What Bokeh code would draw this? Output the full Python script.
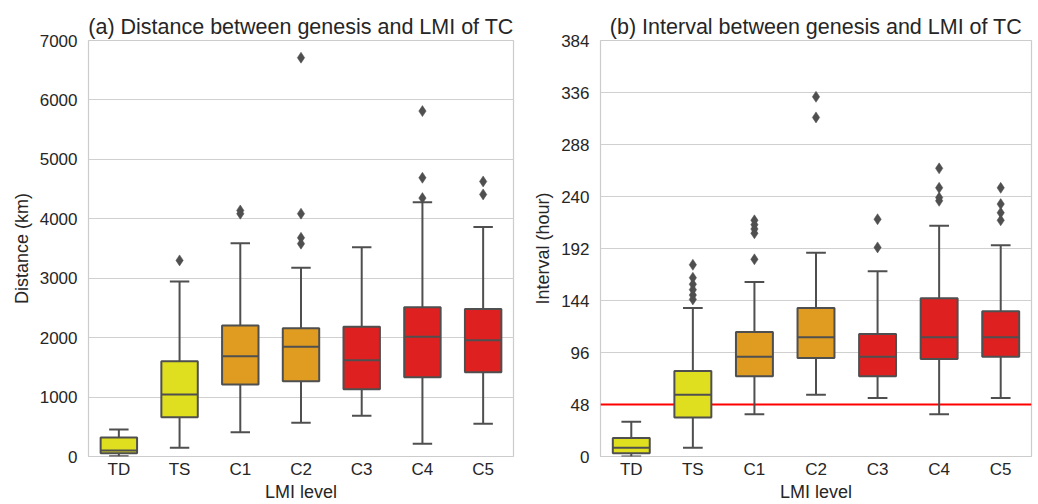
from bokeh.plotting import figure
from bokeh.layouts import row
from bokeh.models import ColumnDataSource, FactorRange, Range1d, FixedTicker, Span
from bokeh.transform import dodge
from bokeh.embed import file_html
from bokeh.resources import INLINE

# ---------------- data ----------------
levels = ["TD", "TS", "C1", "C2", "C3", "C4", "C5"]
box_colors = ["#dfdf20", "#dfdf20", "#df9c20", "#df9c20", "#df2020", "#df2020", "#df2020"]

# (a) distance between genesis and LMI (km)
dist_lo = [5, 146, 409, 567, 685, 213, 550]
dist_q1 = [55, 662, 1212, 1268, 1133, 1335, 1419]
dist_med = [100, 1043, 1688, 1846, 1621, 2014, 1958]
dist_q3 = [320, 1604, 2205, 2160, 2182, 2513, 2480]
dist_hi = [454, 2945, 3590, 3175, 3523, 4280, 3860]
dist_out = {
    "TS": [3300],
    "C1": [4140, 4085],
    "C2": [6710, 4085, 3680, 3580],
    "C4": [5812, 4690, 4348],
    "C5": [4628, 4410],
}

# (b) interval between genesis and LMI (hour)
int_lo = [0, 8, 39, 57, 54, 39, 54]
int_q1 = [3, 36, 74, 91, 74, 90, 92]
int_med = [8, 57, 92, 110, 92, 110, 110]
int_q3 = [17, 79, 115, 137, 113, 146, 134]
int_hi = [32, 137, 161, 188, 171, 213, 195]
int_out = {
    "TS": [177, 165, 159, 154, 149, 145],
    "C1": [218, 214, 210, 206, 182],
    "C2": [332, 313],
    "C3": [219, 193],
    "C4": [266, 248, 239, 236],
    "C5": [248, 233, 225, 218],
}
threshold_hour = [48]

dist_ticks = [0, 1000, 2000, 3000, 4000, 5000, 6000, 7000]
int_ticks = [0, 48, 96, 144, 192, 240, 288, 336, 384]

FONT = "Liberation Sans"
TXT = "#262626"
EDGE = "#4f4f4f"


def make_panel(title, ylabel, lo, q1, med, q3, hi, outl, ticks, width, left, threshold=None):
    p = figure(
        width=width, height=504, x_range=FactorRange(*levels),
        y_range=Range1d(ticks[0], ticks[-1]),
        output_backend="svg", toolbar_location=None, title=title,
        min_border_left=left, min_border_right=7, min_border_top=40, min_border_bottom=48,
        background_fill_color="white", border_fill_color="white",
    )
    p.outline_line_color = "#cccccc"
    p.outline_line_width = 1.2
    p.title.text_font = FONT
    p.title.text_font_size = "21.5px"
    p.title.text_font_style = "normal"
    p.title.text_color = TXT
    p.title.align = "center"
    p.title.standoff = 3

    p.xgrid.grid_line_color = None
    p.ygrid.grid_line_color = "#d0d0d0"
    p.ygrid.grid_line_width = 1
    p.yaxis.ticker = FixedTicker(ticks=ticks)

    for ax in (p.xaxis[0], p.yaxis[0]):
        ax.axis_line_color = None
        ax.major_tick_line_color = None
        ax.minor_tick_line_color = None
        ax.major_tick_out = 0
        ax.major_tick_in = 0
        ax.minor_tick_out = 0
        ax.major_label_text_font = FONT
        ax.major_label_text_font_size = "17px"
        ax.major_label_text_color = TXT
        ax.axis_label_text_font = FONT
        ax.axis_label_text_font_size = "18px"
        ax.axis_label_text_font_style = "normal"
        ax.axis_label_text_color = TXT
    p.yaxis.major_label_standoff = 11
    p.yaxis.axis_label_standoff = 5
    p.xaxis.major_label_standoff = 3
    p.xaxis.axis_label_standoff = 0
    p.xaxis.axis_label = "LMI level"
    p.yaxis.axis_label = ylabel

    if threshold is not None:
        for t in threshold:
            p.add_layout(Span(location=t, dimension="width", line_color="#ff0000",
                              line_width=2, level="underlay"))

    src = ColumnDataSource(dict(cat=levels, lo=lo, q1=q1, med=med, q3=q3, hi=hi, color=box_colors))
    # whiskers
    p.segment(x0="cat", y0="q3", x1="cat", y1="hi", source=src, line_color=EDGE, line_width=2)
    p.segment(x0="cat", y0="lo", x1="cat", y1="q1", source=src, line_color=EDGE, line_width=2)
    # boxes
    p.vbar(x="cat", bottom="q1", top="q3", width=0.6, source=src,
           fill_color="color", line_color=EDGE, line_width=2)
    # medians
    p.segment(x0=dodge("cat", -0.3, range=p.x_range), y0="med",
              x1=dodge("cat", 0.3, range=p.x_range), y1="med",
              source=src, line_color=EDGE, line_width=2)
    # caps
    for col in ("lo", "hi"):
        p.segment(x0=dodge("cat", -0.16, range=p.x_range), y0=col,
                  x1=dodge("cat", 0.16, range=p.x_range), y1=col,
                  source=src, line_color=EDGE, line_width=2)
    # outliers
    oc, ov = [], []
    for k, vals in outl.items():
        oc += [k] * len(vals)
        ov += vals
    p.scatter(x=oc, y=ov, marker="diamond", size=11, fill_color=EDGE, line_color=EDGE, line_width=0.5)
    return p


p1 = make_panel("(a) Distance between genesis and LMI of TC", "Distance (km)",
                dist_lo, dist_q1, dist_med, dist_q3, dist_hi, dist_out, dist_ticks, 520, 88)
p2 = make_panel("(b) Interval between genesis and LMI of TC", "Interval (hour)",
                int_lo, int_q1, int_med, int_q3, int_hi, int_out, int_ticks, 518, 80,
                threshold=threshold_hour)

layout = row(p1, p2)
open("out.html", "w").write(file_html(layout, INLINE))
